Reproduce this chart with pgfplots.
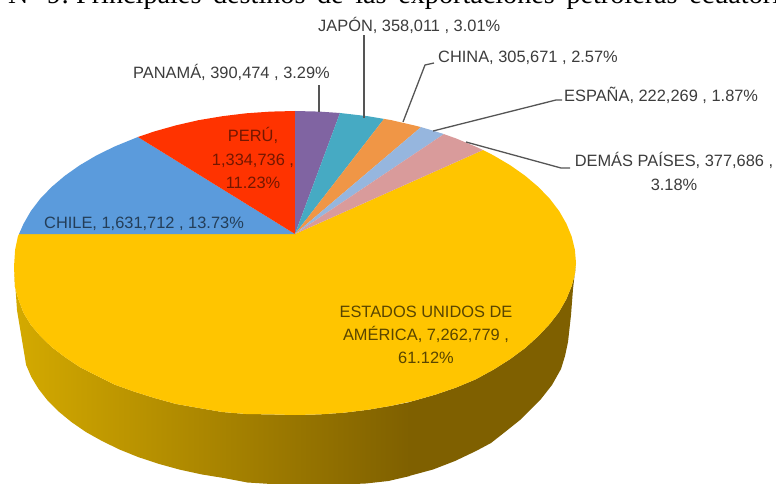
\documentclass[border=0pt]{standalone}
\usepackage{pgfplots}
\pgfplotsset{compat=1.18}
\usepackage{fontspec}
\setmainfont{Liberation Sans}
\newfontfamily\titlefont{Liberation Serif}
\definecolor{usa}{RGB}{255,197,0}
\definecolor{chile}{RGB}{91,155,220}
\definecolor{peru}{RGB}{255,51,0}
\definecolor{panama}{RGB}{128,100,162}
\definecolor{japon}{RGB}{70,170,195}
\definecolor{china}{RGB}{240,150,70}
\definecolor{espana}{RGB}{150,182,222}
\definecolor{demas}{RGB}{217,155,155}
\definecolor{sidelight}{RGB}{212,170,0}
\definecolor{sidedark}{RGB}{127,96,0}
\definecolor{lead}{RGB}{85,85,85}
\definecolor{lab}{RGB}{60,60,60}
\newcommand{\lbl}{\fontsize{16.4}{23.3}\selectfont}
\begin{document}
\begin{tikzpicture}[x=1pt,y=1pt]
\clip (0,0) rectangle (776,484);
\begin{axis}[at={(0,0)},anchor=south west,scale only axis,width=776pt,height=484pt,
  xmin=0,xmax=776,ymin=0,ymax=484,y dir=reverse,hide axis,clip=true]
% side, lit part
\addplot[draw=none,left color=sidelight,right color=sidedark] coordinates {
(14,267)(15,287)(18.3,299)(23.6,313)(30.9,325)(40.3,336)(51.6,347)(64.8,357)(79.7,367)(96.3,375.5)(114.4,384.5)(133.8,391.5)(154.5,398)(176.2,404)(198.9,408)(222.3,412)(246.2,414)(270.6,414.4)(295,415)(319.4,414.4)(343.9,412.7)(367.8,409.8)(391.1,405.8)(410,402)
(410,476)(388.4,481)(365.7,483.5)(342.5,484.5)(318.8,484.5)(295,484.5)(271.2,484)(247.5,482.5)(224.3,478.1)(201.6,474.4)(179.6,469.6)(158.5,463.8)(138.3,457.1)(119.5,449.5)(102,441)(85.9,432)(71.4,422)(58.6,411.5)(47.6,400.5)(38.5,388.9)(31.3,377)(26.1,364.9)(22,340)(17,310)} -- cycle;
% side, dark part
\addplot[draw=none,fill=sidedark] coordinates {
(409,402)(413.8,400.8)(435.5,394.6)(456.2,387.5)(475.6,379.4)(493.7,369.5)(510.3,359)(525.2,348)(538.4,336)(549.7,324)(559,312)(566.4,299)(571.7,286)(574.9,274)(576,263)
(573,289)(571,315)(568,342)(565,356)(561,369)(552,385)(541,399)(520,420)(505,432)(491,443)(476,451)(455,461)(433,469.5)(409,476)} -- cycle;
% Estados Unidos
\addplot[draw=none,fill=usa] coordinates {
(295,234)(483,150)(493.7,155.5)(510.3,165.3)(525.2,175.8)(538.4,187)(549.7,198.7)(559.1,211)(566.4,223.7)(571.7,236.6)(574.9,249.8)(576,263)
(574.9,274)(571.7,286)(566.4,299)(559,312)(549.7,324)(538.4,336)(525.2,348)(510.3,359)(493.7,369.5)(475.6,379.4)(456.2,387.5)(435.5,394.6)(413.8,400.8)(391.1,405.8)(367.8,409.8)(343.9,412.7)(319.4,414.4)(295,415)(270.6,414.4)(246.2,414)(222.3,412)(198.9,408)(176.2,404)(154.5,398)(133.8,391.5)(114.4,384.5)(96.3,375.5)(79.7,367)(64.8,357)(51.6,347)(40.3,336)(30.9,325)(23.6,313)(18.3,299)(15,287)(14,267)(15.1,249.8)(18,236)(19,234)} -- cycle;
% Chile
\addplot[draw=none,fill=chile] coordinates {
(295,234)(19,234)(23.6,223.7)(30.9,211)(40.3,198.7)(51.6,187)(64.8,175.8)(79.7,165.3)(96.3,155.5)(114.4,146.6)(137.9,137)} -- cycle;
% Peru
\addplot[draw=none,fill=peru] coordinates {
(295,234)(137.9,137)(154.5,131.4)(176.2,125.3)(198.9,120.1)(222.3,116.2)(246.2,113.3)(270.6,111.6)(295,111)} -- cycle;
% Panama
\addplot[draw=none,fill=panama] coordinates {
(295,234)(295,111)(319.4,111.6)(340,113)} -- cycle;
% Japon
\addplot[draw=none,fill=japon] coordinates {
(295,234)(340,113)(367.8,116.2)(384,118.9)} -- cycle;
% China
\addplot[draw=none,fill=china] coordinates {
(295,234)(384,118.9)(391.1,120.1)(413.8,125.3)(421,127.1)} -- cycle;
% Espana
\addplot[draw=none,fill=espana] coordinates {
(295,234)(421,127.1)(435.5,131.4)(443.9,134.1)} -- cycle;
% Demas
\addplot[draw=none,fill=demas] coordinates {
(295,234)(443.9,134.1)(456.2,138.5)(475.6,146.6)(483,150)} -- cycle;
% leaders
\addplot[lead,line width=1.3pt] coordinates {(319,112)(319,85)};
\addplot[lead,line width=1.3pt] coordinates {(364,118)(364,35)};
\addplot[lead,line width=1.3pt] coordinates {(403,122)(425,65)(434,63)};
\addplot[lead,line width=1.3pt] coordinates {(433,131)(556,100)(562,100)};
\addplot[lead,line width=1.3pt] coordinates {(466,142)(561,168)(570,168)};
\node[anchor=base west,inner sep=0,font=\fontsize{28.2}{30}\selectfont\titlefont] at (axis cs:8,4) {\spaceskip=11.6pt N°\kern7.4pt 9:\kern7pt Principales destinos de las exportaciones petroleras ecuatorianas};
\node[anchor=base west,inner sep=0,text=lab,font=\lbl] at (axis cs:318,32) {JAPÓN, 358,011 , 3.01\%};
\node[anchor=base west,inner sep=0,text=lab,font=\lbl] at (axis cs:133,79) {PANAMÁ, 390,474 , 3.29\%};
\node[anchor=base west,inner sep=0,text=lab,font=\lbl] at (axis cs:438,63) {CHINA, 305,671 , 2.57\%};
\node[anchor=base west,inner sep=0,text=lab,font=\lbl] at (axis cs:564,102) {ESPAÑA, 222,269 , 1.87\%};
\node[align=center,inner sep=0,text=lab,font=\lbl] at (axis cs:674,171.5) {DEMÁS PAÍSES, 377,686 ,\\3.18\%};
\node[align=center,inner sep=0,text=peru!45!black,font=\lbl] at (axis cs:253,158) {PERÚ,\\1,334,736 ,\\11.23\%};
\node[anchor=base west,inner sep=0,text=chile!40!black,font=\lbl] at (axis cs:44,228) {CHILE, 1,631,712 , 13.73\%};
\node[align=center,inner sep=0,text=usa!35!black,font=\lbl] at (axis cs:426,335) {ESTADOS UNIDOS DE\\AMÉRICA, 7,262,779 ,\\61.12\%};
\end{axis}
\end{tikzpicture}
\end{document}
